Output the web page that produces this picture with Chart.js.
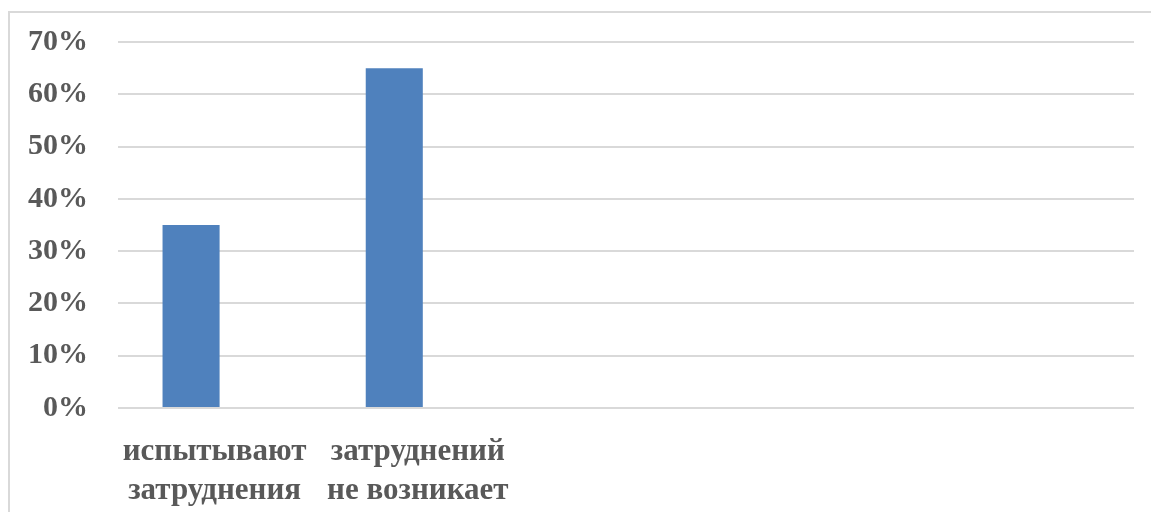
<!DOCTYPE html>
<html>
<head>
<meta charset="utf-8">
<script src="https://cdn.jsdelivr.net/npm/chart.js@4"></script>
<style>
body{margin:0;background:#fff;}
#frame{position:absolute;left:8px;top:11px;width:1200px;height:600px;border-left:2px solid #d9d9d9;border-top:2px solid #d9d9d9;}
#c{position:absolute;left:0;top:0;}
</style>
</head>
<body>
<div id="frame"></div>
<canvas id="c" width="1151" height="512"></canvas>
<script>
// категории (последние три пустые, как в исходной диаграмме)
let categories = [["испытывают","затруднения"],["затруднений","не возникает"],"","",""]
let answers = [35,65,null,null,null]
let emptySeries = [null,null,null,null,null]
let yTicks = [0,10,20,30,40,50,60,70]

let yFont = {family:"'Liberation Serif', 'Times New Roman', serif", size:30, weight:"bold"}
let xFont = {family:"'Liberation Serif', 'Times New Roman', serif", size:31, weight:"bold", lineHeight:1.25}

new Chart(document.getElementById("c"),{
type:"bar",
data:{
labels:categories,
datasets:[{
label:"Ряд 1",
data:answers,
backgroundColor:"#4f81bd",
categoryPercentage:0.5616,
barPercentage:1
},{
label:"Ряд 2",
data:emptySeries,
backgroundColor:"#c0504d",
categoryPercentage:0.5616,
barPercentage:1
}]
},
options:{
responsive:false,
animation:false,
devicePixelRatio:1,
layout:{padding:{left:10,top:42,right:17,bottom:0}},
plugins:{legend:{display:false},tooltip:{enabled:false}},
scales:{
x:{
grid:{display:false},
border:{display:false},
ticks:{font:xFont,color:"#595959",padding:17,maxRotation:0,autoSkip:false,labelOffset:-5},
afterFit:s=>{s.height=104;s.paddingLeft=0;s.paddingRight=0}
},
y:{
min:0,max:70,
afterBuildTicks:s=>{s.ticks=yTicks.map(v=>({value:v}))},
grid:{color:"#d9d9d9",lineWidth:2,drawTicks:false},
border:{display:false},
ticks:{font:yFont,color:"#595959",padding:30,callback:v=>v+"%"},
afterFit:s=>{s.width=108;s.paddingTop=0;s.paddingBottom=0}
}
}
}
})
</script>
</body>
</html>
